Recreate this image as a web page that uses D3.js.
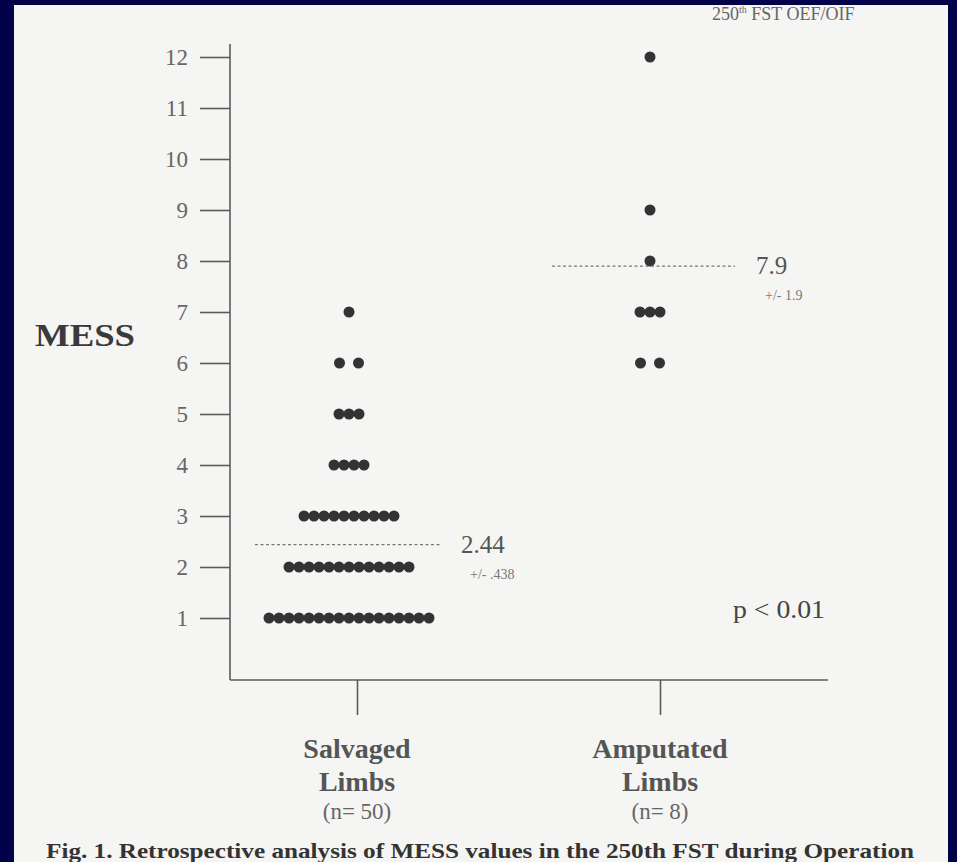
<!DOCTYPE html>
<html>
<head>
<meta charset="utf-8">
<script src="https://cdn.jsdelivr.net/npm/d3@7"></script>
<style>
  html, body { margin: 0; padding: 0; background: #02024a; }
  svg { display: block; }
</style>
</head>
<body>
<svg id="chart" width="957" height="862"></svg>
<script>
// ---- data ----
const categories = ["Salvaged", "Amputated"];
const categoryNotes = ["(n= 50)", "(n= 8)"];
const messTicks = [1, 2, 3, 4, 5, 6, 7, 8, 9, 10, 11, 12];
// number of limbs at each MESS value (index 0 -> MESS 1)
const salvagedCounts = [17, 13, 10, 4, 3, 2, 1];
const amputatedCounts = [0, 0, 0, 0, 0, 2, 3, 1, 1, 0, 0, 1];
const means = [2.44, 7.9];
const meanLabels = ["2.44", "7.9"];
const sdLabels = ["+/- .438", "+/- 1.9"];
const pLabel = "p < 0.01";
const yLabel = "MESS";
const caption = "Fig. 1.  Retrospective analysis of MESS values in the 250th FST during Operation";

// ---- layout ----
const svg = d3.select("#chart");
const W = 957, H = 862;
const serif = "'Liberation Serif', 'DejaVu Serif', serif";

// paper
svg.append("rect").attr("x", 0).attr("y", 0).attr("width", W).attr("height", H).attr("fill", "#02024a");
svg.append("rect").attr("x", 14).attr("y", 5).attr("width", 934).attr("height", H).attr("fill", "#f5f5f3");

const axisX = 230, axisBottom = 680, axisTop = 44, axisRight = 828;
const y = d3.scaleLinear().domain([0, 12]).range([669, 57]);
const x = d3.scalePoint().domain(categories).range([357, 660]);
const dotShift = [-8, -10]; // dot columns sit slightly left of their category tick

const ink = "#5a5a5a";

// y axis
const yAxis = d3.axisLeft(y).tickValues(messTicks).tickSize(30).tickPadding(12).tickFormat(d3.format("d"));
const gy = svg.append("g").attr("transform", `translate(${axisX},0)`).call(yAxis);
gy.select(".domain").remove();
gy.selectAll(".tick line").attr("stroke", ink).attr("stroke-width", 1.6);
gy.selectAll(".tick text").attr("fill", "#666").attr("font-family", serif).attr("font-size", 23);

svg.append("line").attr("x1", axisX).attr("x2", axisX).attr("y1", axisTop).attr("y2", axisBottom)
  .attr("stroke", ink).attr("stroke-width", 1.6);

// x axis
const xAxis = d3.axisBottom(x).tickSize(35).tickFormat("");
const gx = svg.append("g").attr("transform", `translate(0,${axisBottom})`).call(xAxis);
gx.select(".domain").remove();
gx.selectAll(".tick line").attr("stroke", ink).attr("stroke-width", 1.6);
svg.append("line").attr("x1", axisX).attr("x2", axisRight).attr("y1", axisBottom).attr("y2", axisBottom)
  .attr("stroke", ink).attr("stroke-width", 1.6);

// dots
function dotsFor(counts, ci) {
  const out = [];
  counts.forEach((n, i) => {
    const mess = i + 1;
    const gap = n === 2 ? 19 : 10;
    for (let k = 0; k < n; k++) {
      out.push({ mess, cx: x(categories[ci]) + dotShift[ci] + (k - (n - 1) / 2) * gap });
    }
  });
  return out;
}
const allDots = dotsFor(salvagedCounts, 0).concat(dotsFor(amputatedCounts, 1));
svg.append("g").selectAll("circle").data(allDots).join("circle")
  .attr("cx", d => d.cx).attr("cy", d => y(d.mess)).attr("r", 5.5)
  .attr("fill", "#333");

// mean lines
const meanSpans = [[255, 440], [552, 735]];
means.forEach((m, i) => {
  svg.append("line").attr("x1", meanSpans[i][0]).attr("x2", meanSpans[i][1])
    .attr("y1", y(m)).attr("y2", y(m))
    .attr("stroke", "#777").attr("stroke-width", 1.3).attr("stroke-dasharray", "3,2.5");
  svg.append("text").attr("x", meanSpans[i][1] + 21).attr("y", y(m) + 8)
    .attr("font-family", serif).attr("font-size", 25).attr("fill", "#555").text(meanLabels[i]);
  svg.append("text").attr("x", meanSpans[i][1] + 30).attr("y", y(m) + 34)
    .attr("font-family", serif).attr("font-size", 14).attr("fill", "#777").text(sdLabels[i]);
});

// y label
svg.append("text").attr("x", 35).attr("y", 346).attr("font-family", serif).attr("font-size", 32)
  .attr("font-weight", "bold").attr("fill", "#3a3a3a")
  .attr("textLength", 100).attr("lengthAdjust", "spacingAndGlyphs").text(yLabel);

// category labels
categories.forEach((c, i) => {
  const cx = x(c);
  svg.append("text").attr("x", cx).attr("y", 758).attr("text-anchor", "middle")
    .attr("font-family", serif).attr("font-size", 28).attr("font-weight", "bold").attr("fill", "#555").text(c);
  svg.append("text").attr("x", cx).attr("y", 791).attr("text-anchor", "middle")
    .attr("font-family", serif).attr("font-size", 28).attr("font-weight", "bold").attr("fill", "#555").text("Limbs");
  svg.append("text").attr("x", cx).attr("y", 819).attr("text-anchor", "middle")
    .attr("font-family", serif).attr("font-size", 23).attr("fill", "#666").text(categoryNotes[i]);
});

// p value
svg.append("text").attr("x", 733).attr("y", 618).attr("font-family", serif).attr("font-size", 26)
  .attr("fill", "#444").attr("textLength", 92).attr("lengthAdjust", "spacingAndGlyphs").text(pLabel);

// header
const hdr = svg.append("text").attr("x", 712).attr("y", 20).attr("font-family", serif)
  .attr("font-size", 18).attr("fill", "#666");
hdr.append("tspan").text("250");
hdr.append("tspan").attr("font-size", 10).attr("dy", -7).text("th");
hdr.append("tspan").attr("dy", 7).text(" FST OEF/OIF");

// caption (at the bottom edge, as in the source photo)
svg.append("text").attr("x", 46).attr("y", 858).attr("font-family", serif).attr("font-size", 21)
  .attr("font-weight", "bold").attr("fill", "#333").attr("textLength", 868).attr("lengthAdjust", "spacingAndGlyphs")
  .text(caption);
</script>
</body>
</html>
